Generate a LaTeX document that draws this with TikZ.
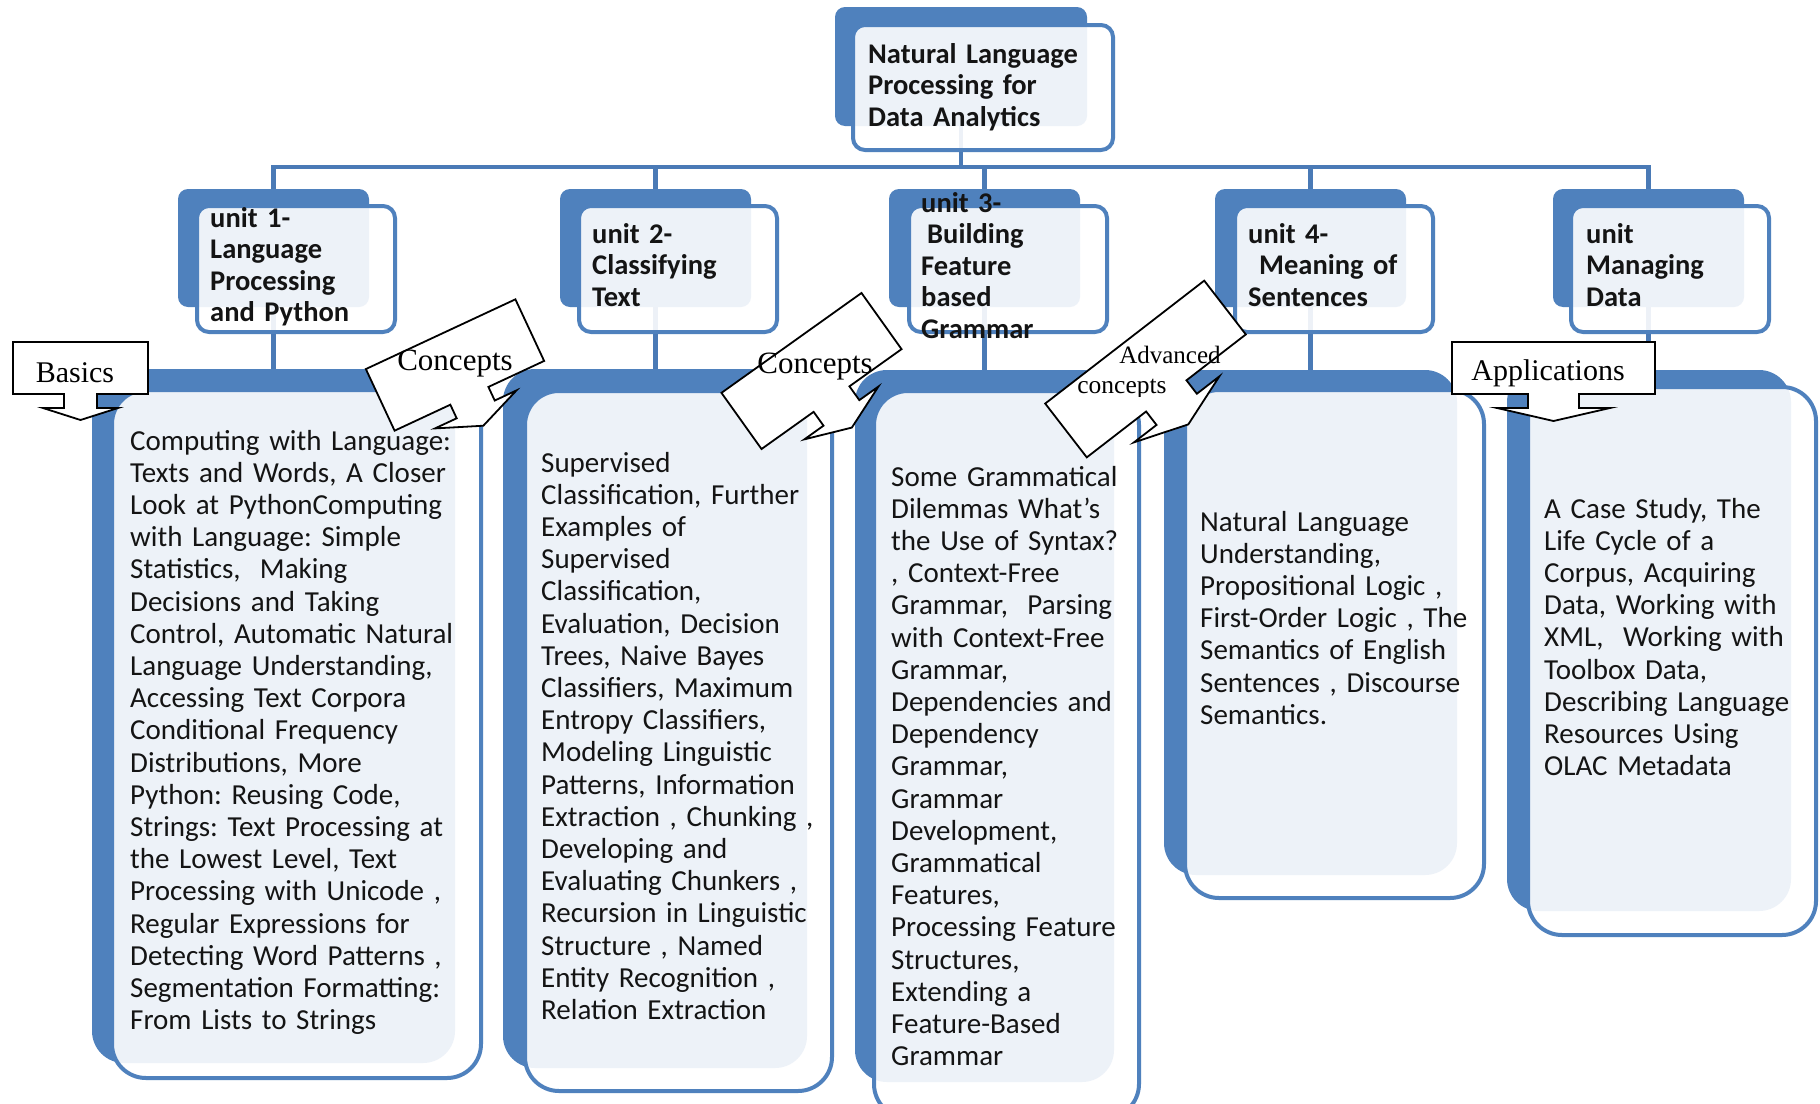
\documentclass[tikz,border=0pt]{standalone}
\usepackage{fontspec}
\setmainfont{Carlito}
\newfontfamily\tnr{Liberation Serif}
\usetikzlibrary{backgrounds}
\definecolor{accent}{RGB}{79,129,189}
\definecolor{connblue}{RGB}{74,122,182}
\definecolor{txtcol}{RGB}{20,20,20}
\frenchspacing
\newcommand\mycallout[9]{%
  \begin{scope}[shift={(#1,#2)},rotate=#3]
    \draw[callshape] ({-#4/2},{-#5/2}) -- ({#4/2},{-#5/2}) -- ({#4/2},{#5/2})
      -- ({#6},{#5/2}) -- ({#6},{#5/2+#7}) -- ({#8},{#5/2+#7}) -- (0,{#5/2+#9})
      -- ({-#8},{#5/2+#7}) -- ({-#6},{#5/2+#7}) -- ({-#6},{#5/2}) -- ({-#4/2},{#5/2}) -- cycle;
  \end{scope}}
\begin{document}
\frenchspacing
\begin{tikzpicture}[x=1pt,y=-1pt,
  bbox/.style={fill=accent,draw=none,inner sep=0pt,outer sep=0pt,anchor=north west,rounded corners=10pt},
  fbox/.style={fill=white,fill opacity=0.9,draw=accent,line width=4pt,inner sep=0pt,outer sep=0pt,anchor=north west,rounded corners=12pt},
  gbback/.style={bbox,rounded corners=32pt},
  gbfront/.style={fbox,rounded corners=34pt},
  connline/.style={draw=connblue,line width=4.5pt},
  callshape/.style={draw=black,fill=white,line width=1.8pt,line join=miter},
  ttext/.style={font=\fontsize{28.5}{31.5}\selectfont\bfseries\frenchspacing,text=txtcol,anchor=base west,inner sep=0pt,text width=300pt,align=left},
  btext/.style={font=\fontsize{29}{32.2}\selectfont\frenchspacing,text=txtcol,anchor=base west,inner sep=0pt,text width=440pt,align=left},
  ctext/.style={font=\tnr\fontsize{30}{30}\selectfont,anchor=base,inner sep=0pt}]
\useasboundingbox (0,0) rectangle (1820,1103);

% top box
\node[bbox,minimum width=252pt,minimum height=119pt] (tb) at (835,7) {};
\node[fbox,minimum width=260pt,minimum height=125pt] (tf) at (853,25) {};

% unit boxes
\node[bbox,minimum width=191pt,minimum height=118pt] (ub1) at (178,189) {};
\node[fbox,minimum width=198pt,minimum height=126pt] (uf1) at (197,206) {};
\node[bbox,minimum width=191pt,minimum height=118pt] (ub2) at (560,189) {};
\node[fbox,minimum width=198pt,minimum height=126pt] (uf2) at (579,206) {};
\node[bbox,minimum width=191pt,minimum height=118pt] (ub3) at (889,189) {};
\node[fbox,minimum width=198pt,minimum height=126pt] (uf3) at (909,206) {};
\node[bbox,minimum width=191pt,minimum height=118pt] (ub4) at (1215,189) {};
\node[fbox,minimum width=198pt,minimum height=126pt] (uf4) at (1235,206) {};
\node[bbox,minimum width=191pt,minimum height=118pt] (ub5) at (1553,189) {};
\node[fbox,minimum width=198pt,minimum height=126pt] (uf5) at (1571,206) {};

% big boxes
\node[gbback,minimum width=363pt,minimum height=694pt] (gb1) at (92,369) {};
\node[gbfront,minimum width=369pt,minimum height=688pt] (gf1) at (112,390) {};
\node[gbback,minimum width=304pt,minimum height=699pt] (gb2) at (503,369) {};
\node[gbfront,minimum width=307pt,minimum height=700pt] (gf2) at (525,391) {};
\node[gbback,minimum width=259pt,minimum height=712pt] (gb3) at (855,370) {};
\node[gbfront,minimum width=265pt,minimum height=727pt] (gf3) at (874,391) {};
\node[gbback,minimum width=293pt,minimum height=505pt] (gb4) at (1164,370) {};
\node[gbfront,minimum width=299pt,minimum height=508pt] (gf4) at (1185,390) {};
\node[gbback,minimum width=284pt,minimum height=541pt] (gb5) at (1507,370) {};
\node[gbfront,minimum width=288pt,minimum height=548pt] (gf5) at (1528,387) {};

% titles
\node[ttext] (ttop) at (868,63) {Natural Language\\Processing for\\Data Analytics};
\node[ttext] (tu1) at (210,227) {unit 1-\\Language\\Processing\\and Python};
\node[ttext] (tu2) at (592,243) {unit 2-\\Classifying\\Text};
\node[ttext] (tu3) at (921,212) {unit 3-\\\hspace*{6pt}Building\\Feature\\based\\Grammar};
\node[ttext] (tu4) at (1248,243) {unit 4-\\\hspace*{11pt}Meaning of\\Sentences};
\node[ttext] (tu5) at (1586,243) {unit\\Managing\\Data};

% bodies
\node[btext] (bt1) at (130,450) {Computing with Language:\\Texts and Words, A Closer\\Look at PythonComputing\\with Language: Simple\\Statistics,~ Making\\Decisions and Taking\\Control, Automatic Natural\\Language Understanding,\\Accessing Text Corpora\\Conditional Frequency\\Distributions, More\\Python: Reusing Code,\\Strings: Text Processing at\\the Lowest Level, Text\\Processing with Unicode ,\\Regular Expressions for\\Detecting Word Patterns ,\\Segmentation Formatting:\\From Lists to Strings};
\node[btext] (bt2) at (541,472) {Supervised\\Classification, Further\\Examples of\\Supervised\\Classification,\\Evaluation, Decision\\Trees, Naive Bayes\\Classifiers, Maximum\\Entropy Classifiers,\\Modeling Linguistic\\Patterns, Information\\Extraction , Chunking ,\\Developing and\\Evaluating Chunkers ,\\Recursion in Linguistic\\Structure , Named\\Entity Recognition ,\\Relation Extraction};
\node[btext] (bt3) at (891,486) {Some Grammatical\\Dilemmas What’s\\the Use of Syntax?\\, Context-Free\\Grammar,~ Parsing\\with Context-Free\\Grammar,\\Dependencies and\\Dependency\\Grammar,\\Grammar\\Development,\\Grammatical\\Features,\\Processing Feature\\Structures,\\Extending a\\Feature-Based\\Grammar};
\node[btext] (bt4) at (1200,531) {Natural Language\\Understanding,\\Propositional Logic ,\\First-Order Logic , The\\Semantics of English\\Sentences , Discourse\\Semantics.};
\node[btext] (bt5) at (1544,518) {A Case Study, The\\Life Cycle of a\\Corpus, Acquiring\\Data, Working with\\XML,~ Working with\\Toolbox Data,\\Describing Language\\Resources Using\\OLAC Metadata};

% callouts
\mycallout{80.5}{368}{0}{135}{52}{16.5}{14}{37.5}{26}
\mycallout{1553.5}{368}{0}{203}{52}{25.5}{14}{56.5}{27}
\mycallout{455}{365}{25}{165}{68}{21}{15}{45}{33}
\mycallout{811.5}{371}{35.5}{172}{69}{22}{17}{45.5}{35}
\mycallout{1145.5}{369}{37.7}{201}{68}{25.5}{17}{54}{36}

\node[ctext] (cbas) at (75,382) {Basics};
\node[ctext] (capp) at (1548,380) {Applications};
\node[ctext,font=\tnr\fontsize{31}{31}\selectfont] (ccon1) at (455,370) {Concepts};
\node[ctext,font=\tnr\fontsize{31}{31}\selectfont] (ccon2) at (815,373) {Concepts};
\node[ctext,font=\tnr\fontsize{25}{25}\selectfont] (cadv1) at (1170,363) {Advanced};
\begin{scope}
  \clip (1040,340) rectangle (1240,396);
  \node[ctext,font=\tnr\fontsize{25.5}{25.5}\selectfont] (cadv2) at (1122,393) {concepts};
\end{scope}

% connectors behind
\begin{pgfonlayer}{background}
  \fill[white] (0,0) rectangle (1820,1103);
  \coordinate (bus) at (0,167);
  \draw[connline] (tb.center) -- (tb.center |- bus);
  \draw[connline] (ub1.center) -- (ub1.center |- bus) -- (ub5.center |- bus) -- (ub5.center);
  \foreach \i in {2,3,4} \draw[connline] (ub\i.center |- bus) -- (ub\i.center);
  \foreach \i in {1,...,5} \draw[connline] (ub\i.center) -- (ub\i.center |- gb\i.north);
\end{pgfonlayer}
\end{tikzpicture}
\end{document}
